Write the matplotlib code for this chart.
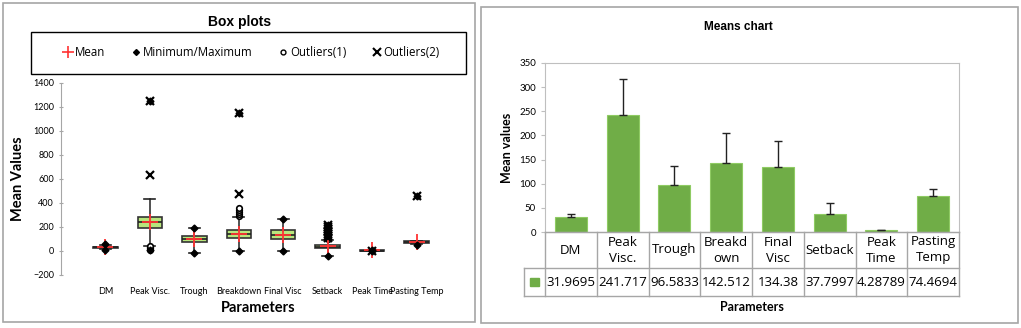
import numpy as np
import matplotlib
matplotlib.use('Agg')
import matplotlib.pyplot as plt
from matplotlib.lines import Line2D
from matplotlib.patches import Rectangle

W, H = 1021, 328

# ---------------- Box plot data ----------------
box_cats = ['DM', 'Peak Visc.', 'Trough', 'Breakdown', 'Final Visc',
            'Setback', 'Peak Time', 'Pasting Temp']
box_q1 = [27, 195, 72, 108, 98, 22, 2, 70]
box_med = [31, 240, 97, 140, 135, 36, 4, 74]
box_q3 = [35, 285, 123, 178, 175, 52, 6, 80]
box_whislo = [15, 45, -15, 0, 0, -42, 0, 55]
box_whishi = [50, 430, 195, 285, 265, 95, 8, 85]
box_mean = [31.97, 241.72, 96.58, 142.51, 134.38, 37.80, 4.29, 74.47]
box_min = [12, 10, -15, 0, 0, -42, 0, 50]
box_max = [55, 1250, 195, 1150, 265, 220, 8, 455]
outliers1 = [[], [10, 22, 32, 40], [], [295, 310, 325, 340, 355], [],
             [100, 115, 130, 145, 160, 175, 190, 205], [], []]
outliers2 = [[], [630, 1250], [], [475, 1150], [],
             [110, 125, 140, 155, 170, 185, 200, 215], [4], [455]]

# ---------------- Means chart data ----------------
mean_cats = ['DM', 'Peak\nVisc.', 'Trough', 'Breakd\nown', 'Final\nVisc',
             'Setback', 'Peak\nTime', 'Pasting\nTemp']
mean_vals = [31.9695, 241.717, 96.5833, 142.512, 134.38, 37.7997, 4.28789, 74.4694]
mean_labels = ['31.9695', '241.717', '96.5833', '142.512', '134.38',
               '37.7997', '4.28789', '74.4694']
mean_err = [6, 76, 40, 62, 55, 23, 0.8, 14]

plt.rcParams['font.family'] = ['Lato', 'DejaVu Sans']


def rect(x0, y0, x1, y1):
    """Pixel box (top-left origin) -> figure fraction [l, b, w, h]."""
    return [x0 / W, 1 - y1 / H, (x1 - x0) / W, (y1 - y0) / H]


fig = plt.figure(figsize=(W / 100, H / 100), dpi=100)

# panel borders
for x0, y0, x1, y1 in [(3, 3, 475, 322), (481, 7, 1018, 323)]:
    fig.add_artist(Rectangle((x0 / W, 1 - y1 / H), (x1 - x0) / W, (y1 - y0) / H,
                             transform=fig.transFigure, fill=False,
                             edgecolor='#A6A6A6', linewidth=1.2))

# ---------------- Left: box plots ----------------
ax = fig.add_axes(rect(61, 83, 461, 275))
stats = []
for i in range(len(box_cats)):
    stats.append(dict(label=box_cats[i], q1=box_q1[i], med=box_med[i], q3=box_q3[i],
                      whislo=box_whislo[i], whishi=box_whishi[i], mean=box_mean[i],
                      fliers=outliers1[i]))
pos = np.arange(1, len(box_cats) + 1)
ax.bxp(stats, positions=pos, widths=0.55, patch_artist=True, showmeans=True,
       capwidths=0.25,
       boxprops=dict(facecolor='#B8E67C', edgecolor='#333333', linewidth=1.2),
       medianprops=dict(color='#222222', linewidth=1.2),
       whiskerprops=dict(color='#333333', linewidth=1.2),
       capprops=dict(color='#222222', linewidth=1.2),
       flierprops=dict(marker='o', markerfacecolor='white', markeredgecolor='black',
                       markersize=4, markeredgewidth=1.2),
       meanprops=dict(marker='+', markeredgecolor='#FF3333', markersize=11,
                      markeredgewidth=1.3))
for i in range(len(box_cats)):
    if outliers2[i]:
        ax.plot([pos[i]] * len(outliers2[i]), outliers2[i], linestyle='none',
                marker='x', color='black', markersize=5.5, markeredgewidth=1.6, zorder=4)
ax.plot(pos, box_min, linestyle='none', marker='D', color='black', markersize=3.5, zorder=5)
ax.plot(pos, box_max, linestyle='none', marker='D', color='black', markersize=3.5, zorder=5)

ax.set_xlim(0, 9)
ax.set_ylim(-200, 1400)
ax.set_yticks(range(-200, 1401, 200))
ax.set_xticks(pos)
ax.set_xticklabels(box_cats, fontsize=6.5)
ax.tick_params(axis='x', length=0, pad=9)
ax.tick_params(axis='y', labelsize=6.5, length=3, color='#A6A6A6', direction='inout')
for s in ['top', 'right', 'bottom']:
    ax.spines[s].set_visible(False)
ax.spines['left'].set_color('#A6A6A6')
ax.patch.set_alpha(0)

fig.text(240 / W, 1 - 22 / H, 'Box plots', ha='center', va='center',
         fontsize=10, fontweight='bold', family='Liberation Sans')
fig.text(18 / W, 1 - 179 / H, 'Mean Values', ha='center', va='center', rotation=90,
         fontsize=10.5, fontweight='bold')
fig.text(258 / W, 1 - 308 / H, 'Parameters', ha='center', va='center',
         fontsize=10.5, fontweight='bold')

# legend box
fig.add_artist(Rectangle((31 / W, 1 - 74 / H), 435 / W, 42 / H, transform=fig.transFigure,
                         fill=False, edgecolor='black', linewidth=1))
handles = [
    Line2D([], [], linestyle='none', marker='+', markeredgecolor='#FF3333',
           markersize=8, markeredgewidth=1.2),
    Line2D([], [], linestyle='none', marker='D', color='black', markersize=3),
    Line2D([], [], linestyle='none', marker='o', markerfacecolor='white',
           markeredgecolor='black', markersize=3.5),
    Line2D([], [], linestyle='none', marker='x', color='black', markersize=6,
           markeredgewidth=1.5),
]
fig.legend(handles, ['Mean', 'Minimum/Maximum', 'Outliers(1)', 'Outliers(2)'],
           loc='center', bbox_to_anchor=(252 / W, 1 - 53 / H), ncol=4, frameon=False,
           handlelength=0.7, handletextpad=0.25, columnspacing=2.3,
           prop=dict(family='Open Sans', size=8.3))

# ---------------- Right: means chart ----------------
bx = fig.add_axes(rect(545, 63, 959, 232))
xpos = np.arange(len(mean_vals))
bx.bar(xpos, mean_vals, width=0.62, color='#70AD47', edgecolor='#8FCB63', linewidth=0.8,
       yerr=[np.zeros(len(mean_err)), mean_err], capsize=3,
       error_kw=dict(ecolor='#222222', elinewidth=1, capthick=1))
bx.set_xlim(-0.5, 7.5)
bx.set_ylim(0, 350)
bx.set_yticks(range(0, 351, 50))
bx.set_xticks([])
bx.tick_params(axis='y', labelsize=7, length=3, color='#BFBFBF', direction='out')
for s in bx.spines.values():
    s.set_color('#BFBFBF')

# data table under the bars
tx = fig.add_axes(rect(524, 232, 959, 296))
x_left = -0.5 - 21 / 51.75
tx.set_xlim(x_left, 7.5)
tx.set_ylim(64, 0)
tx.axis('off')
lc = '#A6A6A6'
tx.plot([-0.5, 7.5], [0, 0], color=lc, lw=1)
tx.plot([x_left, 7.5], [36, 36], color=lc, lw=1)
tx.plot([x_left, 7.5], [64, 64], color=lc, lw=1)
tx.plot([x_left, x_left], [36, 64], color=lc, lw=1)
for k in range(len(mean_cats) + 1):
    tx.plot([k - 0.5, k - 0.5], [0, 64], color=lc, lw=1)
for k in range(len(mean_cats)):
    tx.text(k, 18, mean_cats[k], ha='center', va='center', fontsize=9.5,
            linespacing=1.3, family='Open Sans')
    tx.text(k, 50, mean_labels[k], ha='center', va='center', fontsize=9.5,
            family='Open Sans')
tx.add_patch(Rectangle(((x_left - 0.5) / 2 - 0.09, 46), 0.18, 8, color='#70AD47'))
for a in tx.lines:
    a.set_clip_on(False)

fig.text(738 / W, 1 - 27 / H, 'Means chart', ha='center', va='center',
         fontsize=8.5, fontweight='bold', family='Liberation Sans')
fig.text(507 / W, 1 - 148 / H, 'Mean values', ha='center', va='center', rotation=90,
         fontsize=9, fontweight='bold')
fig.text(752 / W, 1 - 307 / H, 'Parameters', ha='center', va='center',
         fontsize=9, fontweight='bold')

fig.savefig('out.png', dpi=100)
